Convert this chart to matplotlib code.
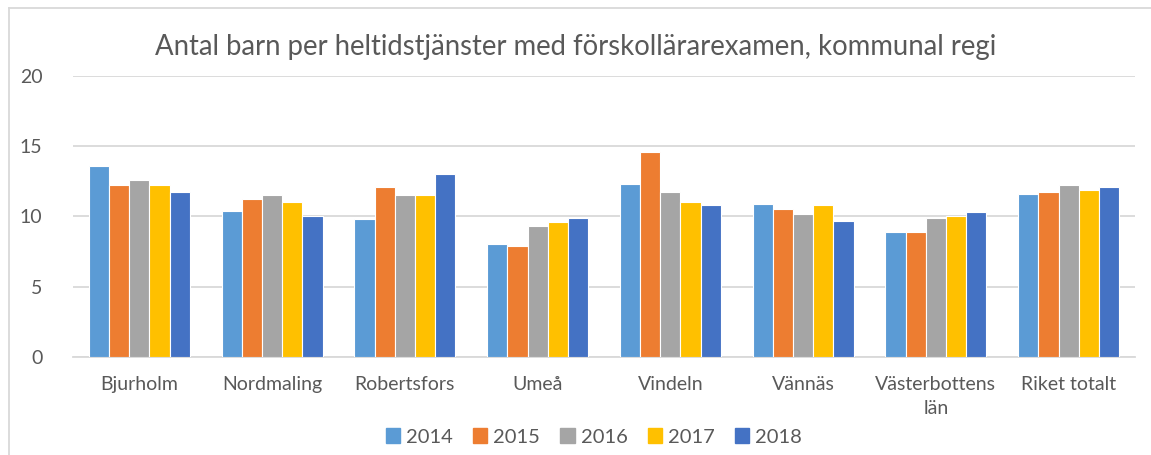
import matplotlib
matplotlib.use("Agg")
import matplotlib.pyplot as plt
import numpy as np
from matplotlib.lines import Line2D

categories = ["Bjurholm", "Nordmaling", "Robertsfors", "Umeå", "Vindeln",
              "Vännäs", "Västerbottens\nlän", "Riket totalt"]
years = ["2014", "2015", "2016", "2017", "2018"]
v2014 = [13.6, 10.4, 9.8, 8.0, 12.3, 10.9, 8.9, 11.6]
v2015 = [12.2, 11.2, 12.1, 7.9, 14.6, 10.5, 8.9, 11.7]
v2016 = [12.6, 11.5, 11.5, 9.3, 11.7, 10.2, 9.9, 12.2]
v2017 = [12.2, 11.0, 11.5, 9.6, 11.0, 10.8, 10.0, 11.9]
v2018 = [11.7, 10.0, 13.0, 9.9, 10.8, 9.7, 10.3, 12.1]
series = [v2014, v2015, v2016, v2017, v2018]
colors = ["#5B9BD5", "#ED7D31", "#A5A5A5", "#FFC000", "#4472C4"]

plt.rcParams['font.family'] = ['Lato', 'DejaVu Sans']
text_color = "#595959"

W, H = 1151, 455
fig = plt.figure(figsize=(W / 100, H / 100), dpi=100)
ax = fig.add_axes([73 / W, 1 - 357 / H, (1135 - 73) / W, (357 - 75.7) / H])

x = np.arange(len(categories))
bw = 0.152
for i, (vals, c) in enumerate(zip(series, colors)):
    ax.bar(x + (i - 2) * bw, vals, width=bw, color=c, edgecolor="white",
           linewidth=0.8, label=years[i], zorder=3)

ax.set_xlim(-0.5, len(categories) - 0.5)
ax.set_ylim(0, 20)
ax.set_yticks([0, 5, 10, 15, 20])
ax.yaxis.grid(True, color="#D9D9D9", linewidth=1.3, zorder=0)
for s in ["top", "right", "left"]:
    ax.spines[s].set_visible(False)
ax.spines["bottom"].set_color("#D9D9D9")
ax.spines["bottom"].set_linewidth(1.3)
ax.tick_params(axis="both", length=0, colors=text_color, labelsize=14)
ax.tick_params(axis="y", pad=22)
ax.tick_params(axis="x", pad=14)
ax.set_xticks(x)
ax.set_xticklabels(categories, color=text_color, fontsize=14, linespacing=1.5)
for t in ax.get_yticklabels():
    t.set_color(text_color)

fig.text(0.5, 1 - 47 / H, "Antal barn per heltidstjänster med förskollärarexamen, kommunal regi",
         ha="center", va="center", fontsize=19.8, color=text_color)

handles = [plt.Rectangle((0, 0), 1, 1, color=c) for c in colors]
fig.legend(handles, years, loc="center", bbox_to_anchor=(0.516, 1 - 437 / H),
           ncol=5, frameon=False, fontsize=14.5, handlelength=0.7, handleheight=0.7,
           columnspacing=1.0, handletextpad=0.3, labelcolor=text_color)

# outer frame (cut off at right and bottom)
fig.add_artist(Line2D([9 / W, 1], [1 - 8 / H, 1 - 8 / H], color="#D9D9D9", linewidth=1.3,
                      transform=fig.transFigure))
fig.add_artist(Line2D([9 / W, 9 / W], [0, 1 - 8 / H], color="#D9D9D9", linewidth=1.3,
                      transform=fig.transFigure))

fig.savefig("out.png", dpi=100, facecolor="white")
